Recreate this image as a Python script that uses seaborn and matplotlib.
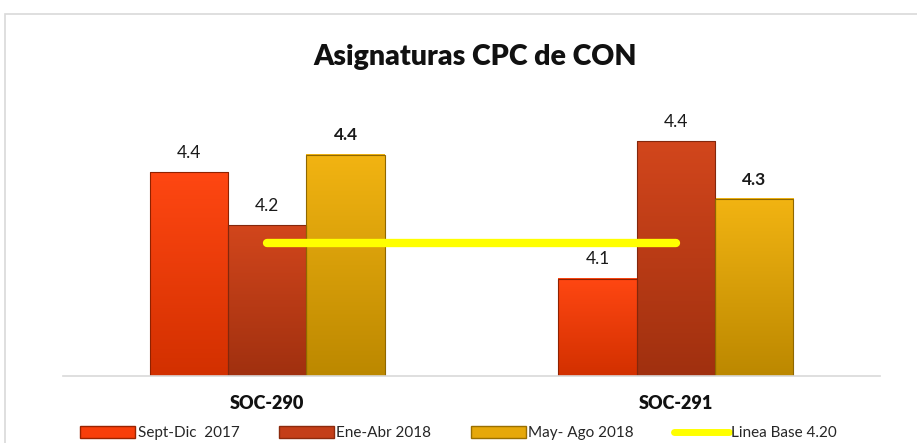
import matplotlib

matplotlib.use("Agg")

import matplotlib.pyplot as plt
import numpy as np
import pandas as pd
import seaborn as sns
from matplotlib.colors import LinearSegmentedColormap
from matplotlib.lines import Line2D
from matplotlib.patches import Patch, Rectangle

categories = ["SOC-290", "SOC-291"]
series = ["Sept-Dic  2017", "Ene-Abr 2018", "May- Ago 2018"]
values = {
    "Sept-Dic  2017": [4.36, 4.12],
    "Ene-Abr 2018": [4.24, 4.43],
    "May- Ago 2018": [4.40, 4.30],
}
labels = {
    "Sept-Dic  2017": ["4.4", "4.1"],
    "Ene-Abr 2018": ["4.2", "4.4"],
    "May- Ago 2018": ["4.4", "4.3"],
}
baseline_label = "Linea Base 4.20"
baseline = [4.20, 4.20]
colors = ["#F83E0A", "#C43E18", "#E6A80A"]
# top / bottom shades for the bevel look
shades = [("#FF4712", "#D23000"), ("#D2461C", "#A0300F"), ("#F2B412", "#BC8800")]

rows = []
for s in series:
    for c, v in zip(categories, values[s]):
        rows.append({"cat": c, "serie": s, "valor": v})
df = pd.DataFrame(rows)

sns.set_style("white")
plt.rcParams["font.family"] = ["Lato", "DejaVu Sans"]

fig = plt.figure(figsize=(9.17, 4.43), dpi=100)
ax = fig.add_axes([0.0687, 0.1512, 0.891, 0.65])

sns.barplot(data=df, x="cat", y="valor", hue="serie", hue_order=series,
            order=categories, palette=colors, width=0.575, gap=0,
            saturation=1, edgecolor="none", legend=False, ax=ax)

ymin, ymax = 3.9, 4.55

# gradient fill over the visible part of each bar
grad = np.linspace(0, 1, 256).reshape(-1, 1)
for bar_group, (top, bottom) in zip(ax.containers, shades):
    cmap = LinearSegmentedColormap.from_list("g", [top, bottom])
    edge = sns.set_hls_values(bottom, l=0.28)
    for bar in bar_group:
        x0, w = bar.get_x(), bar.get_width()
        y1 = bar.get_y() + bar.get_height()
        ax.imshow(grad, cmap=cmap, aspect="auto", origin="upper",
                  extent=(x0, x0 + w, ymin, y1), zorder=3)
        ax.add_patch(Rectangle((x0, ymin), w, y1 - ymin, fill=False,
                               edgecolor=edge, lw=0.8, zorder=3.2))

ax.set_xlim(-0.5, 1.5)
ax.set_ylim(ymin, ymax)

for bar_group, s in zip(ax.containers, series):
    weight = "bold" if s == "May- Ago 2018" else "normal"
    ax.bar_label(bar_group, labels=labels[s], padding=8, fontsize=12.5,
                 fontweight=weight, color="#1A1A1A")

ax.plot(categories, baseline, color="#FFFF00", lw=6, solid_capstyle="round",
        zorder=5)

ax.set_yticks([])
ax.set_xticks(range(len(categories)), categories, fontweight="heavy",
              fontsize=13, color="#111111")
ax.set_xlabel("")
ax.set_ylabel("")
ax.tick_params(axis="x", length=0, pad=14)
for side in ["top", "right", "left"]:
    ax.spines[side].set_visible(False)
ax.spines["bottom"].set_color("#D9D9D9")
ax.spines["bottom"].set_linewidth(1.2)
ax.spines["bottom"].set_zorder(4)

fig.text(0.518, 0.872, "Asignaturas CPC de CON", ha="center", va="center",
         fontsize=20.5, fontweight="heavy", color="#111111")

handles = [Patch(facecolor=c, edgecolor=sns.set_hls_values(b, l=0.3))
           for c, (t, b) in zip(colors, shades)]
handles.append(Line2D([0], [0], color="#FFFF00", lw=5, solid_capstyle="round"))
fig.legend(handles, series + [baseline_label], loc="center", ncol=4,
           bbox_to_anchor=(0.5, 0.022), frameon=False, fontsize=11,
           handlelength=3.6, handleheight=0.8, handletextpad=0.15,
           columnspacing=2.6)

fig.patches.append(Rectangle((5 / 917, -0.01), 1.0, 1 - 14 / 443 + 0.01,
                             transform=fig.transFigure, fill=False,
                             edgecolor="#D9D9D9", lw=1.2))

fig.savefig("out.png", dpi=100)
